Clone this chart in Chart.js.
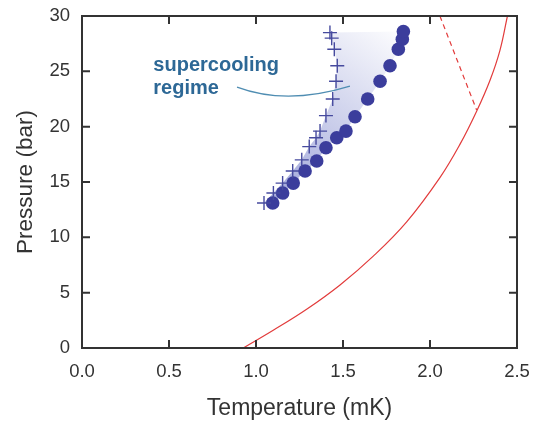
<!DOCTYPE html>
<html>
<head>
<meta charset="utf-8">
<script src="https://cdn.jsdelivr.net/npm/chart.js@4/dist/chart.umd.min.js"></script>
<style>
  html, body { margin: 0; padding: 0; background: #fff; }
  #wrap { width: 538px; height: 422px; }
</style>
</head>
<body>
<div id="wrap"><canvas id="phaseChart"></canvas></div>
<script>
// supercooling data: onset (+) and B-phase nucleation (dots)
var crossT = [1.046, 1.10, 1.153, 1.211, 1.263, 1.306, 1.345, 1.368, 1.402, 1.441, 1.460, 1.467, 1.450, 1.435, 1.425];
var crossP = [13.1, 14.0, 14.9, 16.0, 17.0, 18.2, 19.0, 19.6, 21.0, 22.5, 24.1, 25.5, 27.0, 28.0, 28.5];
var dotT = [1.096, 1.153, 1.214, 1.282, 1.349, 1.402, 1.464, 1.517, 1.569, 1.642, 1.713, 1.770, 1.818, 1.841, 1.847];
var dotP = [13.1, 14.0, 14.9, 16.0, 16.9, 18.1, 19.0, 19.6, 20.9, 22.5, 24.1, 25.5, 27.0, 27.9, 28.6];

// Tc(P) line and A-B line
var tcT = [0.927, 1.099, 1.291, 1.483, 1.674, 1.866, 2.057, 2.172, 2.268, 2.345, 2.402, 2.445];
var tcP = [0, 1.6, 3.5, 5.7, 8.3, 11.4, 15.4, 18.4, 21.4, 24.2, 26.9, 30];
var abT = [2.057, 2.268];
var abP = [30, 21.5];

var xTicks = [0, 0.5, 1.0, 1.5, 2.0, 2.5];
var yTicks = [0, 5, 10, 15, 20, 25, 30];

function pts(xs, ys) {
    var out = [];
    for (var i = 0; i < xs.length; i++) out.push({ x: xs[i], y: ys[i] });
    return out;
}

var ink = '#333333';
var face = '"Liberation Sans", Arial, Helvetica, sans-serif';

// shaded supercooling band between the two series
var bandPlugin = {
    id: 'band',
    beforeDatasetsDraw: function (chart) {
        var ctx = chart.ctx, xs = chart.scales.x, ys = chart.scales.y;
        ctx.save();
        ctx.beginPath();
        for (var i = 0; i < crossT.length; i++) {
            var px = xs.getPixelForValue(crossT[i]), py = ys.getPixelForValue(crossP[i]);
            if (i === 0) ctx.moveTo(px, py); else ctx.lineTo(px, py);
        }
        for (var j = dotT.length - 1; j >= 0; j--) {
            ctx.lineTo(xs.getPixelForValue(dotT[j]), ys.getPixelForValue(dotP[j]));
        }
        ctx.closePath();
        var g = ctx.createLinearGradient(xs.getPixelForValue(1.2), ys.getPixelForValue(15),
                                         xs.getPixelForValue(1.85), ys.getPixelForValue(29));
        g.addColorStop(0, 'rgba(170,176,222,1)');
        g.addColorStop(1, 'rgba(255,255,255,1)');
        ctx.fillStyle = g;
        ctx.fill();
        ctx.restore();
    }
};

// frame with inward ticks on all four sides, plus the annotation
var framePlugin = {
    id: 'frame',
    afterDatasetsDraw: function (chart) {
        var ctx = chart.ctx, a = chart.chartArea, xs = chart.scales.x, ys = chart.scales.y;
        var tl = 8;
        ctx.save();
        ctx.strokeStyle = ink;
        ctx.lineWidth = 2;
        ctx.strokeRect(a.left, a.top, a.right - a.left, a.bottom - a.top);
        ctx.beginPath();
        xTicks.forEach(function (v) {
            var px = xs.getPixelForValue(v);
            ctx.moveTo(px, a.bottom); ctx.lineTo(px, a.bottom - tl);
            ctx.moveTo(px, a.top); ctx.lineTo(px, a.top + tl);
        });
        yTicks.forEach(function (v) {
            var py = ys.getPixelForValue(v);
            ctx.moveTo(a.left, py); ctx.lineTo(a.left + tl, py);
            ctx.moveTo(a.right, py); ctx.lineTo(a.right - tl, py);
        });
        ctx.stroke();

        // annotation
        ctx.fillStyle = '#2d6896';
        ctx.font = 'bold 20px ' + face;
        ctx.textBaseline = 'alphabetic';
        ctx.fillText('supercooling', xs.getPixelForValue(0.41), ys.getPixelForValue(25.05));
        ctx.fillText('regime', xs.getPixelForValue(0.41), ys.getPixelForValue(22.95));
        ctx.strokeStyle = '#4f8db2';
        ctx.lineWidth = 1.3;
        ctx.beginPath();
        ctx.moveTo(xs.getPixelForValue(0.891), ys.getPixelForValue(23.57));
        ctx.quadraticCurveTo(xs.getPixelForValue(1.175), ys.getPixelForValue(21.9),
                             xs.getPixelForValue(1.54), ys.getPixelForValue(23.66));
        ctx.stroke();
        ctx.restore();
    }
};

var ctx = document.getElementById('phaseChart').getContext('2d');
var chart = new Chart(ctx, {
    type: 'scatter',
    data: {
        datasets: [
            {
                label: 'Tc',
                data: pts(tcT, tcP),
                showLine: true,
                borderColor: '#e23b3b',
                borderWidth: 1.2,
                pointRadius: 0,
                tension: 0.4
            },
            {
                label: 'TAB',
                data: pts(abT, abP),
                showLine: true,
                borderColor: '#e23b3b',
                borderWidth: 1.2,
                borderDash: [5, 4],
                pointRadius: 0
            },
            {
                label: 'onset',
                data: pts(crossT, crossP),
                pointStyle: 'cross',
                pointRadius: 7,
                borderWidth: 1.4,
                borderColor: '#464a9e',
                backgroundColor: '#464a9e'
            },
            {
                label: 'nucleation',
                data: pts(dotT, dotP),
                pointStyle: 'circle',
                pointRadius: 6.8,
                borderWidth: 0,
                backgroundColor: '#3b3d9c'
            }
        ]
    },
    options: {
        responsive: true,
        maintainAspectRatio: false,
        animation: false,
        layout: { padding: { left: 0, right: 21, top: 16, bottom: 0 } },
        plugins: {
            legend: { display: false },
            tooltip: { enabled: false }
        },
        scales: {
            x: {
                type: 'linear',
                min: 0,
                max: 2.5,
                afterFit: function (s) { s.height = 74; s.paddingLeft = 0; s.paddingRight = 0; },
                afterBuildTicks: function (s) { s.ticks = xTicks.map(function (v) { return { value: v }; }); },
                grid: { display: false, drawTicks: false },
                border: { display: false },
                ticks: {
                    padding: 13,
                    color: ink,
                    font: { family: face, size: 18.5 },
                    callback: function (v) { return v.toFixed(1); }
                },
                title: {
                    display: true,
                    text: 'Temperature (mK)',
                    color: ink,
                    font: { family: face, size: 23 },
                    padding: { top: 0, bottom: 0 }
                }
            },
            y: {
                type: 'linear',
                min: 0,
                max: 30,
                afterFit: function (s) { s.width = 82; s.paddingTop = 0; s.paddingBottom = 0; },
                afterBuildTicks: function (s) { s.ticks = yTicks.map(function (v) { return { value: v }; }); },
                grid: { display: false, drawTicks: false },
                border: { display: false },
                ticks: {
                    padding: 12,
                    color: ink,
                    font: { family: face, size: 18.5 }
                },
                title: {
                    display: true,
                    text: 'Pressure (bar)',
                    color: ink,
                    font: { family: face, size: 22.5 },
                    padding: { top: 12, bottom: 0 }
                }
            }
        }
    },
    plugins: [bandPlugin, framePlugin]
});
</script>
</body>
</html>
